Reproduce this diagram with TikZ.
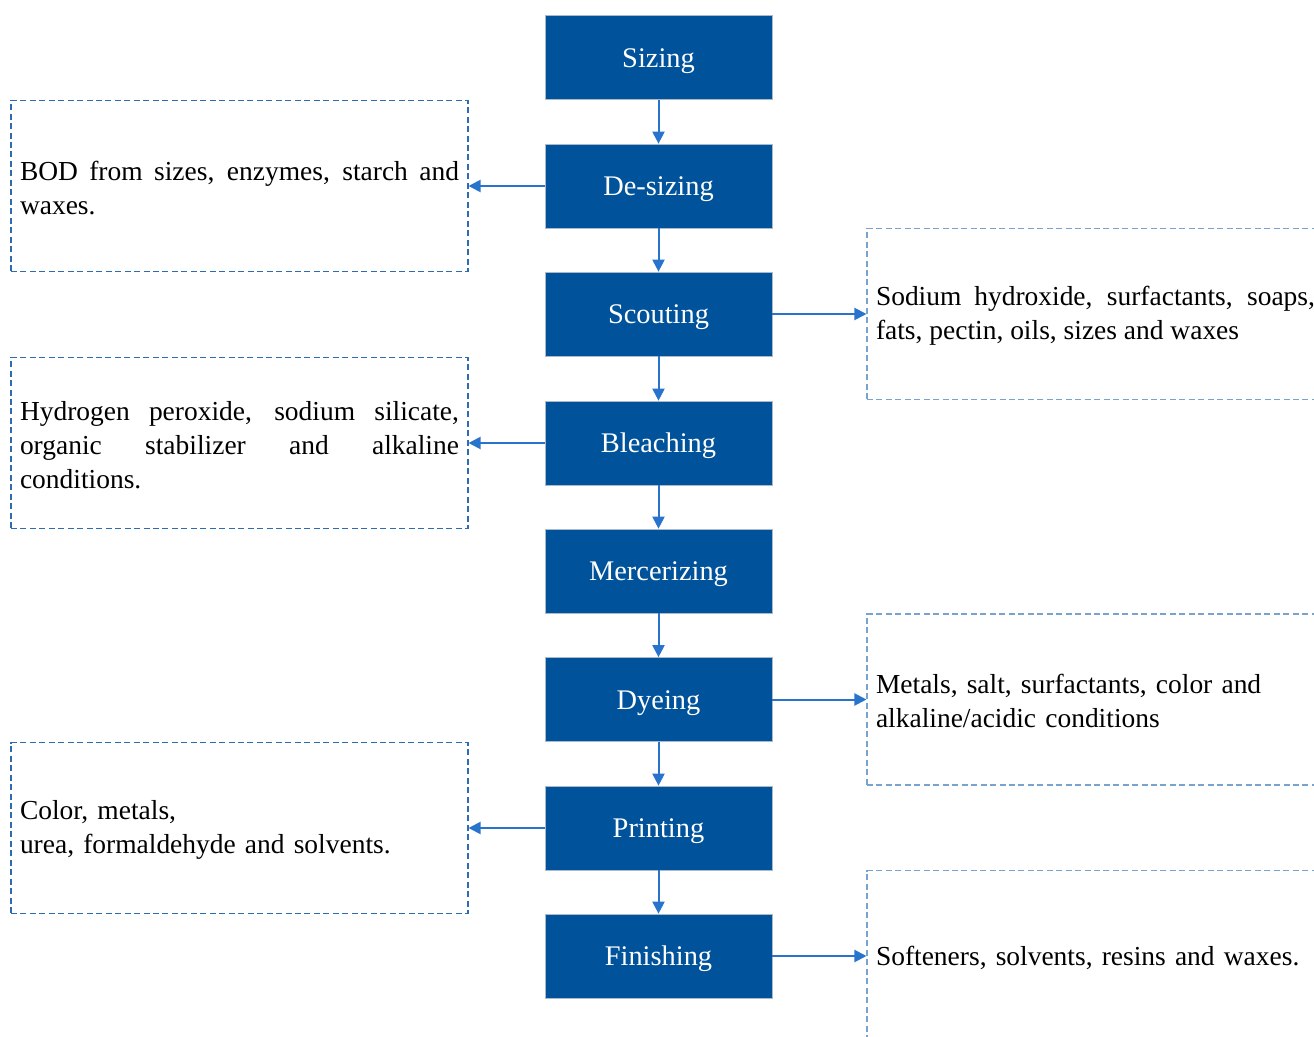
\documentclass[tikz,border=0pt]{standalone}
\usepackage{fontspec}
\setmainfont{Liberation Serif}
\usetikzlibrary{arrows.meta}
\definecolor{boxblue}{RGB}{0,82,155}
\definecolor{boxedge}{RGB}{170,186,204}
\definecolor{arrowblue}{RGB}{40,116,204}
\definecolor{leftdash}{RGB}{46,108,178}
\definecolor{rightdash}{RGB}{120,163,206}
\tikzset{
  process/.style={draw=boxedge, line width=0.5pt, fill=boxblue, text=white,
    minimum width=170.25pt, minimum height=63pt, inner sep=0pt,
    text height=14.4pt, text depth=0pt,
    font=\fontsize{21.3}{26}\selectfont},
  note/.style={dashed, dash pattern=on 4.5pt off 2.6pt, line width=0.8pt,
    minimum width=342.75pt, minimum height=128.25pt, text width=329.25pt,
    text=black, execute at begin node={\rule{0pt}{17pt}},
    inner xsep=6.75pt, inner ysep=0pt, font=\fontsize{20.6}{25.5}\selectfont},
  leftnote/.style={note, draw=leftdash},
  rightnote/.style={note, draw=rightdash},
  flow/.style={arrowblue, line width=1.5pt, -{Triangle[width=9pt,length=9pt]}}
}
\begin{document}
\begin{tikzpicture}[x=0.75pt,y=-0.75pt]
      \clip (0,0) rectangle (1314,1037);
      \draw
        (658.5,57.5) node[process] (sizing){Sizing}
        (658.5,186) node[process] (desizing){De-sizing}
        (658.5,314) node[process] (scouting){Scouting}
        (658.5,443) node[process] (bleaching){Bleaching}
        (658.5,571) node[process] (mercerizing){Mercerizing}
        (658.5,699.5) node[process] (dyeing){Dyeing}
        (658.5,828) node[process] (printing){Printing}
        (658.5,956) node[process] (finishing){Finishing};
      \draw
        (239.5,186) node[leftnote, align=justify] (bod)
          {BOD from sizes, enzymes, starch and\linebreak waxes.}
        (239.5,443) node[leftnote, align=justify] (peroxide)
          {Hydrogen peroxide, sodium silicate,\linebreak organic stabilizer and alkaline\linebreak conditions.}
        (239.5,828) node[leftnote, align=left] (metals)
          {Color, metals,\\urea, formaldehyde and solvents.}
        (1095.5,314) node[rightnote, align=justify] (hydroxide)
          {Sodium hydroxide, surfactants, soaps,\linebreak fats, pectin, oils, sizes and waxes}
        (1095.5,699.5) node[rightnote, align=left] (salt)
          {Metals, salt, surfactants, color and\\alkaline/acidic conditions}
        (1095.5,956) node[rightnote, align=left] (softeners)
          {Softeners, solvents, resins and waxes.};
      \begin{scope}[flow]
        \draw (sizing) to (desizing);
        \draw (desizing) to (scouting);
        \draw (scouting) to (bleaching);
        \draw (bleaching) to (mercerizing);
        \draw (mercerizing) to (dyeing);
        \draw (dyeing) to (printing);
        \draw (printing) to (finishing);
        \draw (desizing) to (bod);
        \draw (bleaching) to (peroxide);
        \draw (printing) to (metals);
        \draw (scouting) to (hydroxide);
        \draw (dyeing) to (salt);
        \draw (finishing) to (softeners);
      \end{scope}
    \end{tikzpicture}
\end{document}
